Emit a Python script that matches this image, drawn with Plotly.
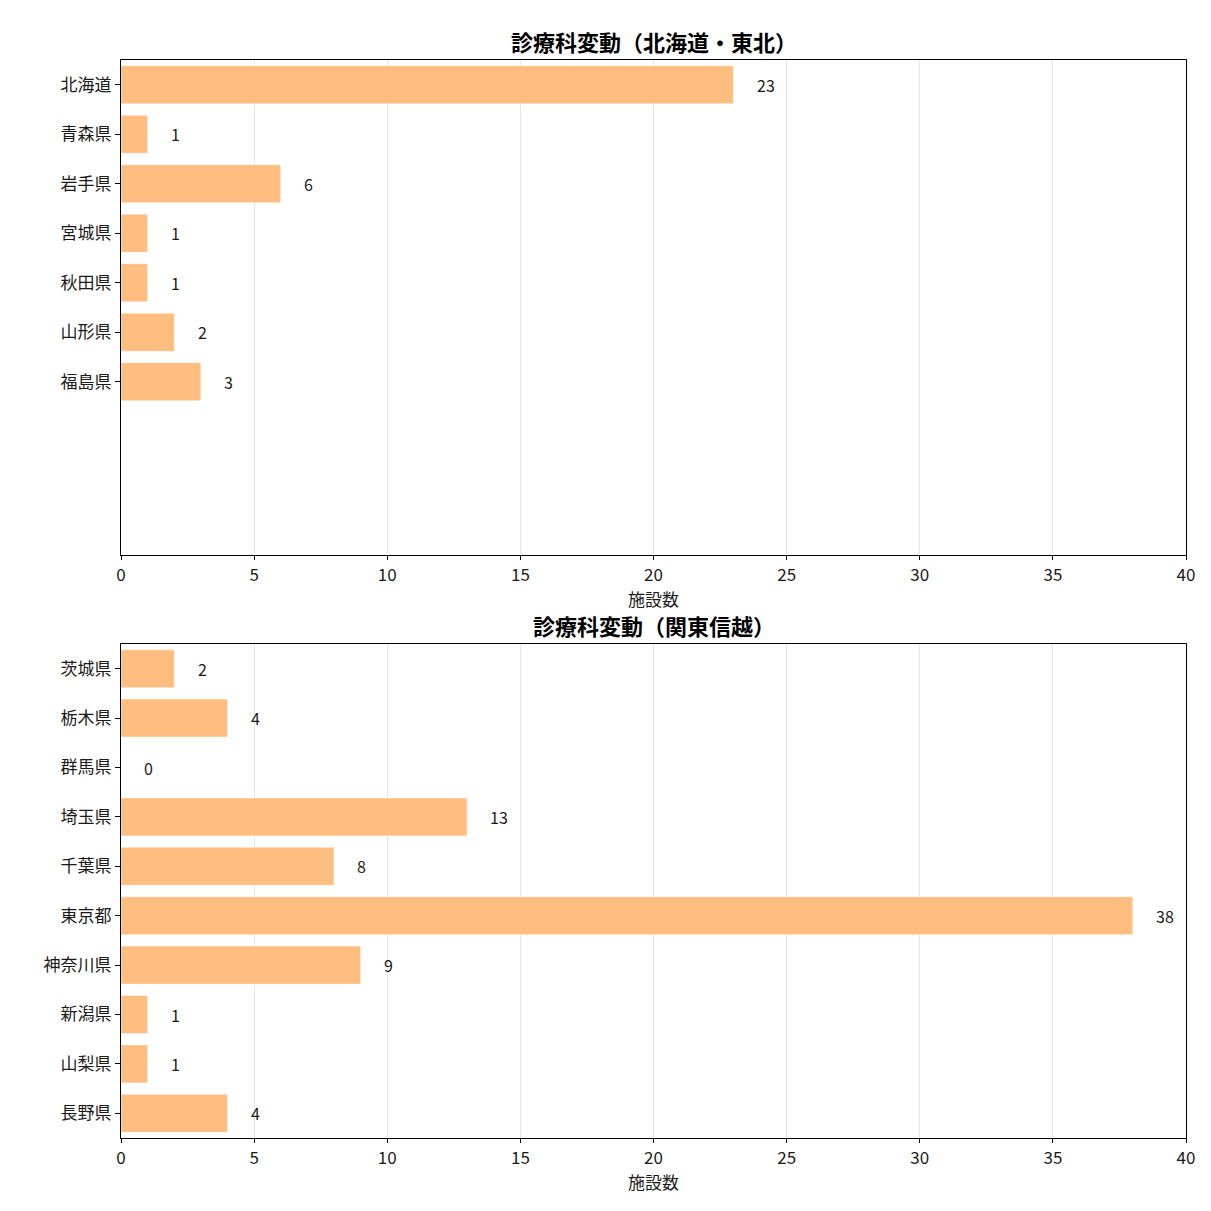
import plotly.graph_objects as go
from plotly.subplots import make_subplots

# data
tohoku_prefs = ['北海道', '青森県', '岩手県', '宮城県', '秋田県', '山形県', '福島県']
tohoku_counts = [23, 1, 6, 1, 1, 2, 3]

kanto_prefs = ['茨城県', '栃木県', '群馬県', '埼玉県', '千葉県', '東京都',
               '神奈川県', '新潟県', '山梨県', '長野県']
kanto_counts = [2, 4, 0, 13, 8, 38, 9, 1, 1, 4]

titles = ['診療科変動（北海道・東北）', '診療科変動（関東信越）']
x_ticks = [0, 5, 10, 15, 20, 25, 30, 35, 40]

FONT = 'Noto Sans CJK JP'
BAR_COLOR = 'rgb(255,190,128)'
TXT = '#1a1a1a'
W, H = 1211, 1211
OFF = 8  # page body margin

fig = make_subplots(rows=2, cols=1)

panels = [(tohoku_prefs, tohoku_counts), (kanto_prefs, kanto_counts)]
for i, (prefs, counts) in enumerate(panels, start=1):
    fig.add_trace(go.Bar(
        x=counts, y=prefs, orientation='h', width=0.77,
        marker=dict(color=BAR_COLOR, line=dict(color='white', width=0.5)),
        showlegend=False, hoverinfo='x+y'
    ), row=i, col=1)
    # value labels just right of each bar
    for p, c in zip(prefs, counts):
        fig.add_annotation(
            x=c + 0.8, y=p, text=str(c), showarrow=False,
            xanchor='left', yanchor='middle',
            font=dict(family=FONT, size=16, color=TXT),
            xref='x' if i == 1 else 'x2', yref='y' if i == 1 else 'y2'
        )

# plot areas in pixels (left, right, top, bottom)
areas = [(121, 1186, 60, 555), (121, 1186, 644, 1138)]
title_centers = [41, 625]

for i, (l, r, t, b) in enumerate(areas, start=1):
    l, r, t, b = l - OFF, r - OFF, t - OFF, b - OFF
    xa = 'xaxis' if i == 1 else 'xaxis2'
    ya = 'yaxis' if i == 1 else 'yaxis2'
    fig.update_layout({
        xa: dict(
            domain=[l / W, r / W], range=[0, 40], tickvals=x_ticks,
            showline=True, mirror=True, linecolor='black', linewidth=1.3,
            ticks='outside', ticklen=4, tickcolor='black',
            showgrid=True, gridcolor='rgba(0,0,0,0.1)', gridwidth=1,
            zeroline=False, automargin=False,
            tickfont=dict(family=FONT, size=17, color=TXT),
        ),
        ya: dict(
            domain=[1 - b / H, 1 - t / H], range=[9.5, -0.5],
            type='category',
            showline=True, mirror=True, linecolor='black', linewidth=1.3,
            ticks='outside', ticklen=5, tickcolor='black',
            showgrid=False, zeroline=False, automargin=False,
            tickfont=dict(family=FONT, size=17, color=TXT),
        ),
    })
    # x-axis title
    fig.add_annotation(
        x=(l + r) / 2 / W, y=1 - b / H, xref='paper', yref='paper',
        text='施設数', showarrow=False, xanchor='center', yanchor='middle',
        yshift=-43, font=dict(family=FONT, size=17, color=TXT)
    )
    # panel title
    tc = title_centers[i - 1] - OFF
    fig.add_annotation(
        x=(l + r) / 2 / W, y=1 - t / H, xref='paper', yref='paper',
        text='<b>' + titles[i - 1] + '</b>', showarrow=False,
        xanchor='center', yanchor='middle', yshift=t - tc,
        font=dict(family=FONT, size=22, color='black')
    )

fig.update_layout(
    width=W, height=H, margin=dict(l=0, r=0, t=0, b=0),
    plot_bgcolor='white', paper_bgcolor='white',
    bargap=0.2, font=dict(family=FONT)
)

fig.write_html("out.html")
